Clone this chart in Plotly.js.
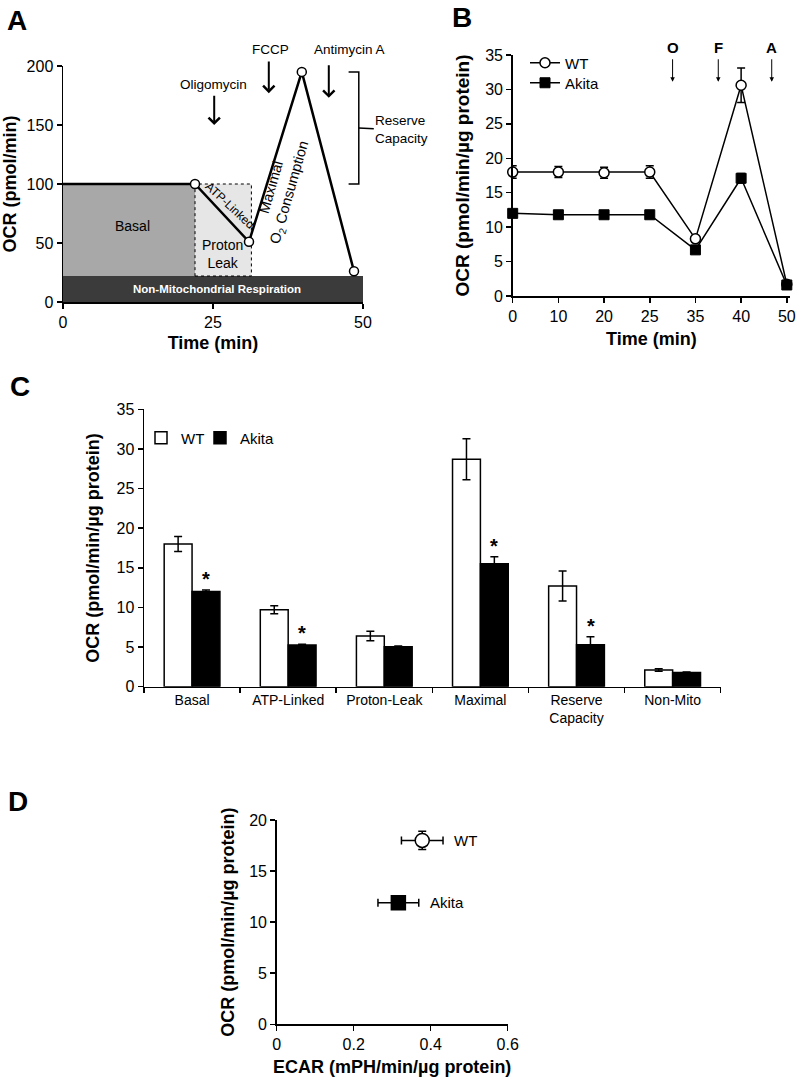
<!DOCTYPE html>
<html><head><meta charset="utf-8">
<script src="https://cdn.plot.ly/plotly-3.0.1.min.js"></script>
<style>html,body{margin:0;padding:0;background:#fff}</style>
</head><body><div id="chart" style="width:798px;height:1077px"></div>
<script>
// ---------- Panel A: schematic mito stress test ----------
const schemTime = [0, 22, 31, 39.8, 48.5];
const schemOCR = [100, 100, 51, 195, 26];
const nonMitoLevel = 22;
const injNames = ['Oligomycin', 'FCCP', 'Antimycin A'];
const injTimes = [25.2, 34.3, 44.3];

// ---------- Panel B: OCR time course ----------
const timeLabels = ['0', '10', '20', '25', '35', '40', '50'];
const wtOCR = [18.0, 18.0, 17.9, 18.0, 8.3, 30.6, 1.7];
const wtErr = [0.9, 0.8, 0.8, 0.9, 0.4, 2.5, 0.2];
const akitaOCR = [12.0, 11.8, 11.8, 11.8, 6.7, 17.1, 1.6];
const akitaErr = [0.3, 0.3, 0.3, 0.3, 0.3, 0.7, 0.2];
const bInjNames = ['O', 'F', 'A'];
const bInjPos = [3.5, 4.5, 5.67];

// ---------- Panel C: respiratory parameters ----------
const params = ['Basal', 'ATP-Linked', 'Proton-Leak', 'Maximal', 'Reserve<br>Capacity', 'Non-Mito'];
const wtParam = [18.0, 9.7, 6.4, 28.7, 12.7, 2.1];
const wtParamErr = [0.95, 0.5, 0.6, 2.6, 1.9, 0.15];
const akitaParam = [12.0, 5.25, 5.05, 15.5, 5.3, 1.8];
const akitaParamErr = [0.2, 0.1, 0.1, 0.9, 1.0, 0.05];
const signif = [true, true, false, true, true, false];

// ---------- Panel D: OCR vs ECAR ----------
const groups = ['WT', 'Akita'];
const ecar = [0.378, 0.316];
const ecarErr = [0.054, 0.053];
const ocrBasal = [18.0, 11.9];
const ocrBasalErr = [0.9, 0.3];

const W = 798, H = 1077;
const px = v => v / W;
const py = v => 1 - v / H;
const FONT = 'Liberation Sans, Arial, sans-serif';

const axisBase = {
  showline: true, linecolor: '#000', linewidth: 1.5,
  ticks: 'outside', ticklen: 5, tickwidth: 1.5, tickcolor: '#000',
  showgrid: false, zeroline: false,
  tickfont: {size: 16, color: '#000', family: FONT}
};
const titleFont = s => ({size: s, color: '#000', family: FONT, weight: 'bold'});

const traces = [];

// Panel A traces
traces.push({
  x: schemTime, y: schemOCR, xaxis: 'x', yaxis: 'y', mode: 'lines',
  line: {color: '#000', width: 2.5}, showlegend: false, hoverinfo: 'skip'
});
traces.push({
  x: schemTime.slice(1), y: schemOCR.slice(1), xaxis: 'x', yaxis: 'y', mode: 'markers',
  marker: {symbol: 'circle', size: 9, color: '#fff', line: {color: '#000', width: 1.5}},
  showlegend: false, cliponaxis: false, hoverinfo: 'skip'
});

// Panel B traces
const bIdx = timeLabels.map((_, i) => i);
traces.push({
  x: bIdx, y: wtOCR, xaxis: 'x2', yaxis: 'y2', name: 'WT', mode: 'lines+markers',
  line: {color: '#000', width: 1.5},
  marker: {symbol: 'circle', size: 10, color: '#fff', line: {color: '#000', width: 1.5}},
  error_y: {type: 'data', array: wtErr, visible: true, color: '#000', thickness: 1.5, width: 4},
  cliponaxis: false, legend: 'legend'
});
traces.push({
  x: bIdx, y: akitaOCR, xaxis: 'x2', yaxis: 'y2', name: 'Akita', mode: 'lines+markers',
  line: {color: '#000', width: 1.5},
  marker: {symbol: 'square', size: 10, color: '#000', line: {color: '#000', width: 1}},
  error_y: {type: 'data', array: akitaErr, visible: true, color: '#000', thickness: 1.5, width: 4},
  cliponaxis: false, legend: 'legend4'
});

// Panel C traces
traces.push({
  type: 'bar', x: params, y: wtParam, xaxis: 'x3', yaxis: 'y3', name: 'WT',
  marker: {color: '#fff', line: {color: '#000', width: 1.5}},
  error_y: {type: 'data', array: wtParamErr, visible: true, color: '#000', thickness: 1.5, width: 4},
  legend: 'legend2'
});
traces.push({
  type: 'bar', x: params, y: akitaParam, xaxis: 'x3', yaxis: 'y3', name: 'Akita',
  marker: {color: '#000', line: {color: '#000', width: 1.5}},
  error_y: {type: 'data', array: akitaParamErr, visible: true, color: '#000', thickness: 1.5, width: 4},
  legend: 'legend3'
});

// Panel D traces
const dSymbols = ['circle', 'square'];
const dColors = ['#fff', '#000'];
groups.forEach((g, i) => {
  traces.push({
    x: [ecar[i]], y: [ocrBasal[i]], xaxis: 'x4', yaxis: 'y4', mode: 'markers', name: g,
    marker: {symbol: dSymbols[i], size: 14, color: dColors[i], line: {color: '#000', width: 1.5}},
    error_x: {type: 'data', array: [ecarErr[i]], visible: true, color: '#000', thickness: 1.5, width: 4},
    error_y: {type: 'data', array: [ocrBasalErr[i]], visible: true, color: '#000', thickness: 1.5, width: 4},
    showlegend: false, cliponaxis: false
  });
});

// ---------- annotations ----------
const ann = [];
const letter = (t, x, y) => ann.push({xref: 'paper', yref: 'paper', x: px(x), y: py(y), text: '<b>' + t + '</b>',
  showarrow: false, font: {size: 28, color: '#000', family: FONT}, xanchor: 'center', yanchor: 'middle'});
letter('A', 17, 20); letter('B', 462, 18); letter('C', 20, 386); letter('D', 18, 801);

const aText = (t, x, y, size, extra) => ann.push(Object.assign({xref: 'x', yref: 'y', x: x, y: y, text: t,
  showarrow: false, font: {size: size, color: '#000', family: FONT}}, extra || {}));

// Panel A labels
aText('Basal', 11.5, 64, 14);
aText('Proton<br>Leak', 26.6, 41, 14);
aText('<b>Non-Mitochondrial Respiration</b>', 25.6, nonMitoLevel / 2, 11.5, {font: {size: 11.5, color: '#fff', family: FONT}});
aText('ATP-Linked', 27.9, 81.5, 12, {textangle: 43});
aText('Maximal<br>O<sub>2</sub> Consumption', 36.4, 95, 14.5, {textangle: -74});
// injection labels (paper y, above plot) & arrows
const aLabelX = [25.0, 34.5, 47.7];
const aLabelY = [84, 49, 49];
const aArrowTop = [176, 205, 202];
const aArrowTip = [150, 177, 173];
injNames.forEach((n, i) => {
  ann.push({xref: 'x', yref: 'paper', x: aLabelX[i], y: py(aLabelY[i]), yanchor: 'middle', xanchor: 'center',
    text: n, showarrow: false, font: {size: 13.5, color: '#000', family: FONT}});
  ann.push({xref: 'x', yref: 'y', axref: 'x', ayref: 'y', x: injTimes[i], y: aArrowTip[i],
    ax: injTimes[i], ay: aArrowTop[i], text: '', showarrow: true, arrowhead: 4, arrowsize: 1.1,
    arrowwidth: 2, arrowcolor: '#000', standoff: 0, startstandoff: 0});
});
// reserve capacity bracket label
const resMid = (Math.max(...schemOCR) + schemOCR[0]) / 2;
ann.push({xref: 'x', yref: 'y', x: 49.3, y: resMid, ax: 43, ay: 2, text: 'Reserve<br>Capacity', align: 'left',
  showarrow: true, arrowhead: 0, arrowwidth: 1.5, arrowcolor: '#000', standoff: 0,
  font: {size: 13.5, color: '#000', family: FONT}});

// Panel B injection markers
bInjNames.forEach((n, i) => {
  ann.push({xref: 'x2', yref: 'paper', x: bInjPos[i], y: py(48), yanchor: 'middle', xanchor: 'center',
    text: '<b>' + n + '</b>', showarrow: false, font: {size: 15, color: '#000', family: FONT}});
  ann.push({xref: 'x2', yref: 'y2', axref: 'x2', ayref: 'y2', x: bInjPos[i], y: 31.1, ax: bInjPos[i], ay: 34.6,
    text: '', showarrow: true, arrowhead: 2, arrowsize: 0.9, arrowwidth: 1, arrowcolor: '#000', standoff: 0});
});

// Panel C significance stars
params.forEach((p, i) => {
  if (!signif[i]) return;
  ann.push({xref: 'x3', yref: 'y3', x: p, y: akitaParam[i] + akitaParamErr[i], xshift: 14, yshift: -2,
    text: '<b>*</b>', showarrow: false, yanchor: 'bottom', font: {size: 20, color: '#000', family: FONT}});
});

// Panel D labels
groups.forEach((g, i) => {
  ann.push({xref: 'x4', yref: 'y4', x: ecar[i], y: ocrBasal[i], xshift: 30, xanchor: 'left', text: g,
    showarrow: false, font: {size: 15, color: '#000', family: FONT}});
});

// ---------- shapes (panel A regions) ----------
const peak = Math.max(...schemOCR);
const shapes = [
  {type: 'rect', xref: 'x', yref: 'y', x0: 0, x1: 50, y0: 0, y1: nonMitoLevel,
    fillcolor: '#3b3b3b', line: {width: 0}, layer: 'below'},
  {type: 'rect', xref: 'x', yref: 'y', x0: 0, x1: schemTime[1], y0: nonMitoLevel, y1: schemOCR[0],
    fillcolor: '#a8a8a8', line: {width: 0}, layer: 'below'},
  {type: 'rect', xref: 'x', yref: 'y', x0: schemTime[1], x1: schemTime[2] + 0.4, y0: nonMitoLevel, y1: schemOCR[1],
    fillcolor: '#e6e6e6', line: {color: '#000', width: 1, dash: 'dot'}, layer: 'below'},
  {type: 'path', xref: 'x', yref: 'y',
    path: 'M 47.6 ' + peak + ' L 49.3 ' + peak + ' L 49.3 ' + schemOCR[0] + ' L 47.6 ' + schemOCR[0],
    line: {color: '#000', width: 1.5}}
];

const legendBase = {xanchor: 'left', yanchor: 'middle', bgcolor: 'rgba(0,0,0,0)',
  font: {size: 15, color: '#000', family: FONT}, itemwidth: 30};

const layout = {
  width: W, height: H, margin: {l: 0, r: 0, t: 0, b: 0},
  paper_bgcolor: '#fff', plot_bgcolor: 'rgba(0,0,0,0)',
  font: {family: FONT, color: '#000'},
  bargap: 0.42, bargroupgap: 0, barmode: 'group',
  // Panel A
  xaxis: Object.assign({}, axisBase, {domain: [px(63), px(363)], range: [0, 50], tickvals: [0, 25, 50],
    title: {text: 'Time (min)', font: titleFont(18), standoff: 6}, anchor: 'y'}),
  yaxis: Object.assign({}, axisBase, {domain: [py(302), py(66)], range: [0, 200], dtick: 50,
    title: {text: 'OCR (pmol/min)', font: titleFont(18), standoff: 6}, anchor: 'x'}),
  // Panel B
  xaxis2: Object.assign({}, axisBase, {domain: [px(512.7), px(790)], range: [0, 6.07], tickvals: bIdx, ticktext: timeLabels,
    title: {text: 'Time (min)', font: titleFont(18), standoff: 8}, anchor: 'y2'}),
  yaxis2: Object.assign({}, axisBase, {domain: [py(296), py(55)], range: [0, 35], dtick: 5,
    title: {text: 'OCR (pmol/min/µg protein)', font: titleFont(19), standoff: 10}, anchor: 'x2'}),
  // Panel C
  xaxis3: Object.assign({}, axisBase, {domain: [px(144), px(720.7)], type: 'category', categoryorder: 'array',
    categoryarray: params, range: [-0.5, 5.5], tickson: 'boundaries', tickfont: {size: 14, color: '#000', family: FONT}, anchor: 'y3'}),
  yaxis3: Object.assign({}, axisBase, {domain: [py(686.7), py(409.3)], range: [0, 35], dtick: 5,
    title: {text: 'OCR (pmol/min/µg protein)', font: titleFont(18), standoff: 12}, anchor: 'x3'}),
  // Panel D
  xaxis4: Object.assign({}, axisBase, {domain: [px(276.7), px(507.7)], range: [0, 0.6], tickvals: [0, 0.2, 0.4, 0.6],
    title: {text: 'ECAR (mPH/min/µg protein)', font: titleFont(18), standoff: 8}, anchor: 'y4'}),
  yaxis4: Object.assign({}, axisBase, {domain: [py(1024.3), py(820)], range: [0, 20], dtick: 5,
    title: {text: 'OCR (pmol/min/µg protein)', font: titleFont(18), standoff: 10}, anchor: 'x4'}),
  legend: Object.assign({}, legendBase, {x: px(525), y: py(63)}),
  legend4: Object.assign({}, legendBase, {x: px(525), y: py(83)}),
  legend2: Object.assign({}, legendBase, {x: px(141), y: py(438)}),
  legend3: Object.assign({}, legendBase, {x: px(200), y: py(438)}),
  annotations: ann,
  shapes: shapes
};

Plotly.newPlot('chart', traces, layout, {staticPlot: true, displayModeBar: false});
</script>
</body></html>
